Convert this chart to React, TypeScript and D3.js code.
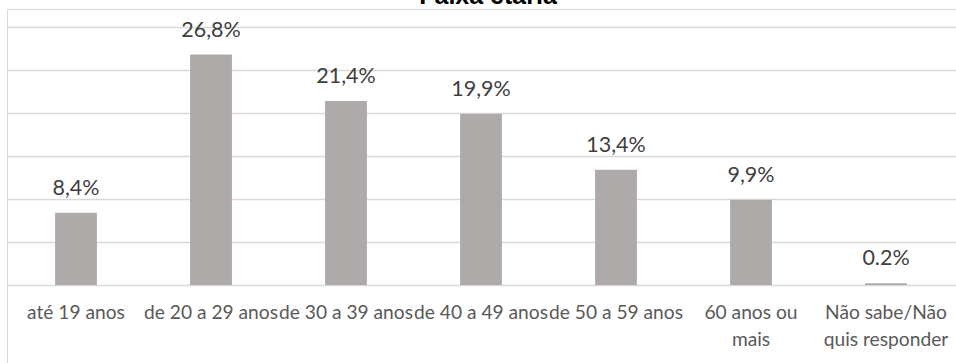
import React from "react";
import * as d3 from "d3";

const categories: string[][] = [
  ["até 19 anos"],
  ["de 20 a 29 anos"],
  ["de 30 a 39 anos"],
  ["de 40 a 49 anos"],
  ["de 50 a 59 anos"],
  ["60 anos ou", "mais"],
  ["Não sabe/Não", "quis responder"],
];
const values: number[] = [8.4, 26.8, 21.4, 19.9, 13.4, 9.9, 0.2];
const valueLabels: string[] = ["8,4%", "26,8%", "21,4%", "19,9%", "13,4%", "9,9%", "0.2%"];
const gridTicks: number[] = [0, 5, 10, 15, 20, 25, 30];
const title = "Faixa etária";

const W = 956;
const H = 363;
const plotLeft = 8.5;
const plotRight = 953.5;
const baseY = 285;
const topY = 27;

export default function App() {
  const x = d3
    .scaleBand<number>()
    .domain(d3.range(values.length))
    .range([plotLeft, plotRight])
    .paddingInner(0.69)
    .paddingOuter(0.345);
  const y = d3.scaleLinear().domain([0, 30]).range([baseY, topY]);
  const font = "Lato, 'Open Sans', sans-serif";
  return (
    <svg
      width={W}
      height={H}
      style={{ position: "absolute", left: 0, top: 0, background: "#fff" }}
    >
      <rect x={7.5} y={9.5} width={W + 10} height={H + 10} fill="#fff" stroke="#D9D9D9" strokeWidth={1} />
      <text
        x={488}
        y={4}
        textAnchor="middle"
        fontFamily="'Liberation Sans', Arial, sans-serif"
        fontWeight="bold"
        fontSize={25}
        fill="#000"
      >
        {title}
      </text>
      {gridTicks.map((t) => (
        <line
          key={t}
          x1={8}
          x2={W}
          y1={Math.round(y(t)) + 0.5}
          y2={Math.round(y(t)) + 0.5}
          stroke="#D9D9D9"
          strokeWidth={1.3}
        />
      ))}
      {values.map((v, i) => (
        <rect
          key={i}
          x={x(i)}
          y={y(v)}
          width={x.bandwidth()}
          height={baseY - y(v)}
          fill="#AEAAAA"
        />
      ))}
      {values.map((v, i) => (
        <text
          key={i}
          x={(x(i) as number) + x.bandwidth() / 2}
          y={y(v) - 18}
          textAnchor="middle"
          fontFamily={font}
          fontSize={21.5}
          fill="#404040"
        >
          {valueLabels[i]}
        </text>
      ))}
      {categories.map((lines, i) => (
        <text
          key={i}
          x={(x(i) as number) + x.bandwidth() / 2}
          y={319}
          textAnchor="middle"
          fontFamily={font}
          fontSize={19.2}
          fill="#595959"
        >
          {lines.map((l, j) => (
            <tspan key={j} x={(x(i) as number) + x.bandwidth() / 2} dy={j === 0 ? 0 : 26.5}>
              {l}
            </tspan>
          ))}
        </text>
      ))}
    </svg>
  );
}
